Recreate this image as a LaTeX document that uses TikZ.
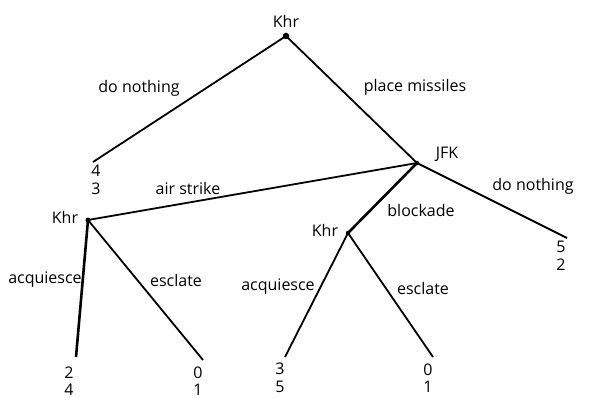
\documentclass[tikz,border=0pt]{standalone}
\usepackage{fontspec}
\setmainfont{Open Sans}
\begin{document}
\begin{tikzpicture}[x=1pt,y=-1pt,
  edge/.style={line width=1.8pt},
  thick edge/.style={line width=2.6pt},
  lbl/.style={font=\fontsize{16}{18}\selectfont, inner sep=0pt},
  pay/.style={font=\fontsize{16}{17.5}\selectfont, inner sep=0pt, align=center},
  dec/.style={circle, fill=black, inner sep=0pt, minimum size=5pt}]
\useasboundingbox (0,0) rectangle (599,398);
% decision nodes
\node[dec, minimum size=6.5pt] (r) at (286,36) {};
\node[dec, minimum size=4.5pt] (jfk) at (417,163) {};
\node[dec] (k2) at (88,220) {};
\node[dec, minimum size=4.5pt] (k3) at (348,233) {};
% leaves
\coordinate (l1) at (93,162);
\coordinate (l2) at (567,238);
\coordinate (l3) at (76,357);
\coordinate (l4) at (203,360);
\coordinate (l5) at (285,357);
\coordinate (l6) at (433,357);
% edges
\draw[edge] (r.center) -- (l1);
\draw[edge] (r.center) -- (jfk.center);
\draw[edge] (jfk.center) -- (k2.center);
\draw[edge] (jfk.center) -- (l2);
\draw[thick edge] (jfk.center) -- (k3.center);
\draw[thick edge] (k2.center) -- (l3);
\draw[edge] (k2.center) -- (l4);
\draw[edge] (k3.center) -- (l5);
\draw[edge] (k3.center) -- (l6);
% player labels
\node[lbl] (tr) at (286,21) {Khr};
\node[lbl] (tjfk) at (447,154) {JFK};
\node[lbl] (tk2) at (65,217) {Khr};
\node[lbl] (tk3) at (325,230) {Khr};
% action labels
\node[lbl] (a1) at (139,88) {do nothing};
\node[lbl] (a2) at (415,87) {place missiles};
\node[lbl] (a3) at (188,188) {air strike};
\node[lbl] (a4) at (533,186) {do nothing};
\node[lbl] (a5) at (421,210) {blockade};
\node[lbl] (a6) at (45,280) {acquiesce};
\node[lbl] (a7) at (176,280) {esclate};
\node[lbl] (a8) at (278,287) {acquiesce};
\node[lbl] (a9) at (423,288) {esclate};
% payoffs
\node[pay] (p1) at (96,180) {4\\3};
\node[pay] (p2) at (561,256) {5\\2};
\node[pay] (p3) at (69,381) {2\\4};
\node[pay] (p4) at (198,381) {0\\1};
\node[pay] (p5) at (280,378) {3\\5};
\node[pay] (p6) at (428,378) {0\\1};
\end{tikzpicture}
\end{document}
